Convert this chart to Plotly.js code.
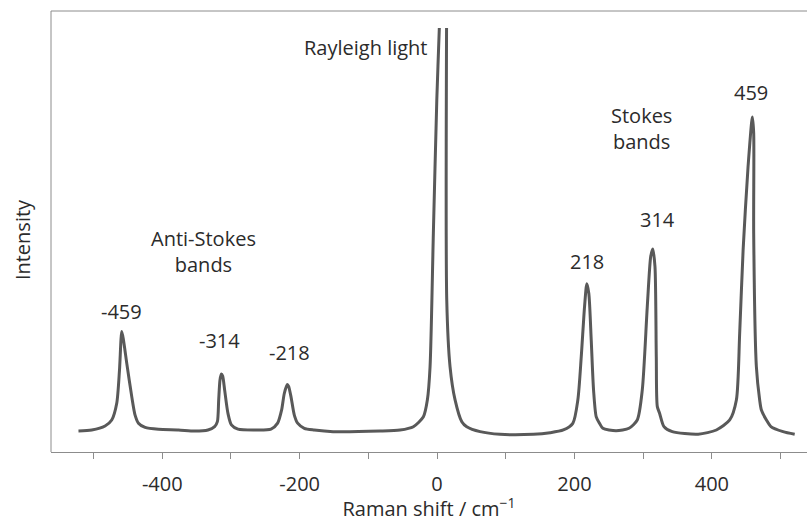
<!DOCTYPE html>
<html>
<head>
<meta charset="utf-8">
<script src="https://cdn.plot.ly/plotly-3.0.1.min.js"></script>
<style>
  html, body { margin: 0; padding: 0; background: #ffffff; }
  #chart { width: 807px; height: 522px; }
</style>
</head>
<body>
<div id="chart"></div>
<script>
// Raman spectrum: shift (cm^-1) and relative intensity
// (the Rayleigh line runs off the top of the plot and is clipped there)
const shift = [
  -522, -502.7, -483.3, -473.6, -466.3, -462.3, -459, -456.5, -451.7, -444.4, -439.6, -434.7, -425, -405.6, -376.5,
  -352.9, -333.5, -323.8, -319.8, -317.9, -316, -314, -312.1, -309.2, -304.4, -299.4, -289.8, -265.5,
  -241.7, -232.1, -226.3, -222.4, -218, -216.1, -212.6, -207.8, -203, -193.3, -178.7,
  -151.4, -83, -53.9, -34.5, -19.9, -14.1, -10.2, -5.4, -0.4, 3.3, 5.8, null, 14.1, 14.1, 18.9, 26.2, 36, 43.2, 62.6, 91.7,
  140.2, 164.5, 183.8, 197.6, 204.9, 209.9, 214.7, 218, 220.9, 224.4, 227.8, 231.7, 236.5, 241.3, 260.5,
  279.4, 291.4, 298.7, 306, 311, 314, 317.2, 319.1, 320.6, 324, 330.3, 342.4,
  380, 406.6, 426, 435.7, 440.5, 445.5, 452.7, 459, 460.9, 460.9, 464.8, 469.6, 472.1, 479.4, 486, 503.7, 520.6
];
const intensity = [
  4.95, 5.19, 6.13, 7.55, 11.5, 19.3, 28.4, 26.4, 20.9, 13.0, 8.7, 6.8, 5.8, 5.35, 5.2,
  4.95, 5.19, 5.97, 7.15, 12.3, 17.0, 18.4, 17.9, 14.6, 9.1, 6.4, 5.4, 5.2,
  5.4, 6.8, 9.9, 13.8, 15.9, 15.5, 13.0, 8.7, 6.8, 5.6, 5.2,
  4.8, 4.95, 5.19, 5.97, 8.3, 12.3, 20.1, 51.6, 83.0, 100.1, 112, null, 112, 35.8, 20.1, 12.3, 7.15, 5.97, 4.8, 4.17,
  4.17, 4.55, 5.19, 6.77, 12.26, 22.5, 34.3, 39.7, 37.4, 26.4, 14.6, 8.3, 6.77, 5.6, 5.0,
  5.6, 7.55, 14.6, 34.3, 46.1, 47.9, 43.7, 22.5, 10.7, 9.1, 6.0, 4.8,
  4.2, 5.19, 7.55, 12.26, 28.0, 47.6, 67.3, 79.0, 75.2, 51.6, 20.1, 12.26, 9.9, 7.55, 6.0, 4.8, 4.17
];

// Band positions and their labels
const peakShift = [-459, -314, -218, 218, 314, 459];
const peakLabel = ['-459', '-314', '-218', '218', '314', '459'];

// Axis ticks: labelled every 200, unlabelled in between
const tickVals = [-400, -200, 0, 200, 400];
const tickText = ['-400', '-200', '0', '200', '400'];
const minorTickVals = [-500, -300, -100, 100, 300, 500];

// Region captions
const regionText = ['Rayleigh light', 'Anti-Stokes<br>bands', 'Stokes<br>bands'];

const textColor = '#2b2b2b';
const axisColor = '#8c8c8c';
const fontFamily = '"Open Sans", "Noto Sans", sans-serif';

// Label placement (heights in intensity units, nudges in px)
const labelHeight = [33.1, 26.2, 23.5, 45.0, 54.8, 84.7];
const labelNudge = [0, -2, 2, 0, 5, -1];

const annotations = peakShift.map((s, i) => ({
  x: s, y: labelHeight[i], xref: 'x', yref: 'y',
  text: peakLabel[i], showarrow: false,
  xanchor: 'center', yanchor: 'middle', xshift: labelNudge[i],
  font: { family: fontFamily, size: 20, color: textColor }
}));

const regionPos = [[-104.8, 95.3], [-340.6, 47.2], [297, 76.4]];
regionText.forEach((t, i) => {
  annotations.push({
    x: regionPos[i][0], y: regionPos[i][1], xref: 'x', yref: 'y',
    text: t, showarrow: false, xanchor: 'center', yanchor: 'middle',
    font: { family: fontFamily, size: 20, color: textColor }
  });
});

// top frame line sits a little above the clipped plot area
const topFrac = (452 - 11) / 424;

const trace = {
  x: shift, y: intensity, type: 'scatter', mode: 'lines',
  connectgaps: false,
  line: { color: '#595959', width: 3, shape: 'spline', smoothing: 0.7 },
  hoverinfo: 'skip'
};

const layout = {
  width: 807, height: 522,
  margin: { l: 51, r: 0, t: 28, b: 70 },
  paper_bgcolor: '#ffffff', plot_bgcolor: '#ffffff',
  showlegend: false,
  font: { family: fontFamily, size: 20, color: textColor },
  xaxis: {
    range: [-562, 538.5], showgrid: false, zeroline: false,
    showline: true, linecolor: axisColor, linewidth: 1,
    ticks: 'outside', ticklen: 6, tickcolor: axisColor, tickwidth: 1,
    tickmode: 'array', tickvals: tickVals, ticktext: tickText,
    minor: { tickmode: 'array', tickvals: minorTickVals, ticks: 'outside', ticklen: 6, tickcolor: axisColor, tickwidth: 1, showgrid: false },
    tickfont: { family: fontFamily, size: 20, color: textColor },
    ticklabelstandoff: 8,
    automargin: true,
    title: { text: 'Raman shift / cm<sup>−1</sup>', font: { family: fontFamily, size: 20, color: textColor }, standoff: 3 }
  },
  yaxis: {
    range: [0, 100], showgrid: false, zeroline: false,
    showline: false, showticklabels: false, ticks: '',
    title: { text: 'Intensity', font: { family: fontFamily, size: 20, color: textColor }, standoff: 14 }
  },
  shapes: [
    { type: 'line', xref: 'paper', yref: 'paper', x0: 0, x1: 0, y0: 0, y1: topFrac,
      line: { color: axisColor, width: 1 } },
    { type: 'line', xref: 'paper', yref: 'paper', x0: 0, x1: 1, y0: topFrac, y1: topFrac,
      line: { color: axisColor, width: 1 } }
  ],
  annotations: annotations
};

Plotly.newPlot('chart', [trace], layout, { displayModeBar: false, staticPlot: true });
</script>
</body>
</html>
